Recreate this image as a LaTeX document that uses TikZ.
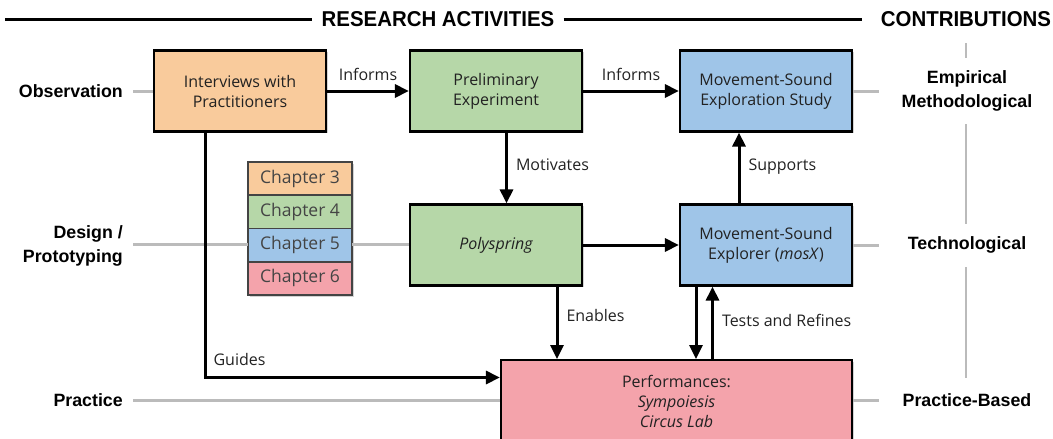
\documentclass[tikz,border=0pt]{standalone}
\usepackage{fontspec}
\setmainfont{Open Sans}
\newfontfamily\hdfont[FakeStretch=0.95]{Liberation Sans}
\newfontfamily\lblfont{Liberation Sans}
\usetikzlibrary{arrows.meta,shadows}
\definecolor{cOrange}{HTML}{F9CB9C}
\definecolor{cGreen}{HTML}{B6D7A8}
\definecolor{cBlue}{HTML}{9FC5E8}
\definecolor{cPink}{HTML}{F4A3AB}
\definecolor{cGray}{HTML}{BBBBBB}
\definecolor{cText}{HTML}{222222}
\definecolor{cChap}{HTML}{444444}
\tikzset{
  box/.style={draw=black, line width=2.2pt, minimum width=172pt, minimum height=81pt,
    align=center, font=\fontsize{16}{20}\selectfont, text=cText,
    drop shadow={shadow xshift=1.5pt, shadow yshift=-1.5pt, opacity=0.35}},
  chap/.style={draw=cChap, line width=1.6pt, minimum width=104pt, minimum height=33.25pt,
    outer sep=0pt, font=\fontsize{17.5}{20}\selectfont, text=cChap},
  conn/.style={line width=3pt, -{Triangle[length=14pt,width=13pt]}},
  rowline/.style={cGray, line width=3pt},
  lbl/.style={font=\fontsize{16}{18}\selectfont, text=cText, inner sep=0pt},
  rowlbl/.style={font=\lblfont\bfseries\fontsize{17.8}{24}\selectfont, text=black, inner sep=0pt},
  hd/.style={font=\hdfont\bfseries\fontsize{21.5}{24}\selectfont, text=black, inner sep=0pt},
}
\begin{document}
\begin{tikzpicture}[x=1pt,y=-1pt]
\useasboundingbox (0,0) rectangle (1053,439);
% header
\node[hd] (hra) at (438,19) {RESEARCH ACTIVITIES};
\node[hd] (hco) at (966,19) {CONTRIBUTIONS};
\coordinate (hl1) at (5,19);
\coordinate (hl2) at (862,19);
\draw[line width=3pt] (hl1) -- ([xshift=-9pt]hra.west);
\draw[line width=3pt] ([xshift=9pt]hra.east) -- (hl2);
% row labels left
\node[rowlbl, anchor=east] (obs) at (123,91) {Observation};
\node[rowlbl, anchor=east, align=right] (des) at (123,246) {Design /\\Prototyping};
\node[rowlbl, anchor=east] (pra) at (123,400) {Practice};
% contributions
\node[rowlbl, align=center] (emp) at (967,91) {Empirical\\Methodological};
\node[rowlbl] (tec) at (967,245) {Technological};
\node[rowlbl] (pbs) at (967,400) {Practice-Based};
\coordinate (ct0) at (966,43);
\coordinate (ct1) at (966,58);
\coordinate (ct2) at (966,124);
\coordinate (ct3) at (966,224);
\coordinate (ct4) at (966,267);
\coordinate (ct5) at (966,378);
\draw[rowline, line width=2pt] (ct0) -- (ct1);
\draw[rowline, line width=2pt] (ct2) -- (ct3);
\draw[rowline, line width=2pt] (ct4) -- (ct5);
% boxes
\node[box, fill=cOrange] (int) at (240,91) {Interviews with\\Practitioners};
\node[box, fill=cGreen] (pre) at (496,91) {Preliminary\\Experiment};
\node[box, fill=cBlue] (mse) at (766,91) {Movement-Sound\\Exploration Study};
\node[box, fill=cGreen] (pol) at (496,245) {\itshape Polyspring};
\node[box, fill=cBlue] (mox) at (766,245) {Movement-Sound\\Explorer (\textit{mosX})};
\node[box, fill=cPink, minimum width=351pt, minimum height=82pt, anchor=north] (per) at (676.5,359) {Performances:\\\textit{Sympoiesis}\\\textit{Circus Lab}};
% chapters legend
\coordinate (lgnw) at (248,162);
\coordinate (lgse) at (352,295);
\path[fill=white, drop shadow={shadow xshift=1.5pt, shadow yshift=-1.5pt, opacity=0.35}] (lgnw) rectangle (lgse);
\node[chap, fill=cOrange, anchor=north west] (c3) at (lgnw) {Chapter 3};
\node[chap, fill=cGreen, anchor=north] (c4) at (c3.south) {Chapter 4};
\node[chap, fill=cBlue, anchor=north] (c5) at (c4.south) {Chapter 5};
\node[chap, fill=cPink, anchor=north] (c6) at (c5.south) {Chapter 6};
% row lines
\draw[rowline] ([xshift=10pt]obs.east) -- (int.west);
\draw[rowline] (133,244) -- (c5.west |- 0,244);
\draw[rowline] (c5.east |- 0,244) -- (pol.west |- 0,244);
\draw[rowline] ([xshift=10pt]pra.east) -- (per.west |- pra.east);
\draw[rowline] (mse.east) -- ++(26,0);
\draw[rowline] (mox.east) -- ++(26,0);
\draw[rowline] (per.east |- pbs.west) -- ++(26,0);
% connectors
\draw[conn] (int.east) -- node[lbl, above=9pt] {Informs} (pre.west);
\draw[conn] (pre.east) -- node[lbl, above=9pt] {Informs} (mse.west);
\draw[conn] (pre.south -| 506.5,0) -- node[lbl, right=8pt, pos=0.45] {Motivates} (pol.north -| 506.5,0);
\draw[conn] (pol.east) -- (mox.west);
\draw[conn] (mox.north -| 739,0) -- node[lbl, right=8pt, pos=0.52] {Supports} (mse.south -| 739,0);
\draw[conn] (pol.south -| 557,0) -- node[lbl, right=8pt, pos=0.4] {Enables} (per.north -| 557,0);
\draw[conn] (mox.south -| 696,0) -- (per.north -| 696,0);
\draw[conn] (per.north -| 712.5,0) -- node[lbl, right=8pt, pos=0.53] {Tests and Refines} (mox.south -| 712.5,0);
\coordinate (gd) at (205.5,377.5);
\draw[line width=3pt] (int.south -| gd) -- (gd);
\draw[conn] ([xshift=-1.5pt]gd) -- node[lbl, above=10pt, pos=0.12] {Guides} (per.west |- gd);
\end{tikzpicture}
\end{document}
